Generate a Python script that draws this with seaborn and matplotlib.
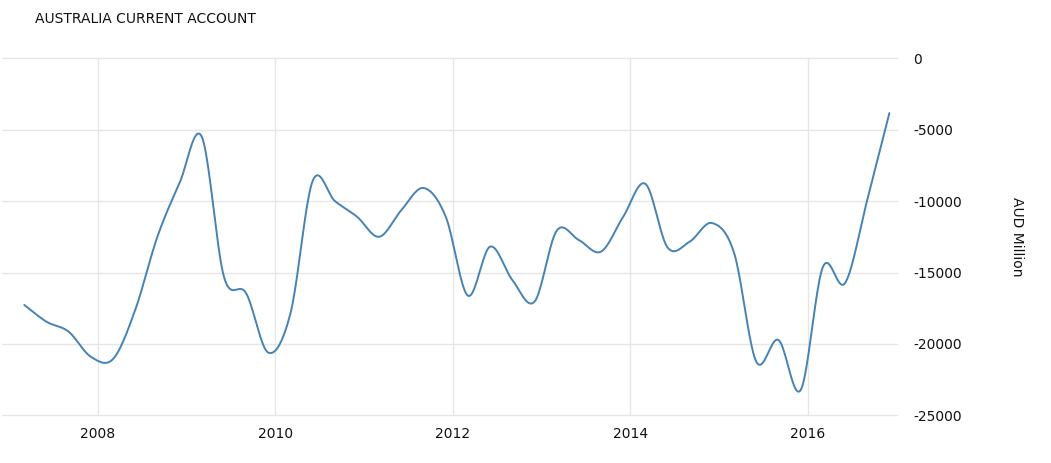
import numpy as np
import pandas as pd
import matplotlib
matplotlib.use("Agg")
import matplotlib.pyplot as plt
import seaborn as sns

# quarterly current account balance, AUD million (2007 Q1 .. 2016 Q4)
start_year = 2007.17
values = [-17270, -18440, -19140, -20890, -21050, -17620, -12500, -8740,
          -5500, -15290, -16450, -20600, -17850, -8600, -10000, -11100,
          -12500, -10630, -9090, -11100, -16620, -13190, -15520, -17040,
          -12080, -12730, -13540, -11100, -8800, -13250, -12840, -11540,
          -13640, -21240, -19720, -23220, -14620, -15740, -9930, -3850]
years = [start_year + 0.25 * i for i in range(len(values))]
year_ticks = [2008, 2010, 2012, 2014, 2016]
value_ticks = [0, -5000, -10000, -15000, -20000, -25000]


def smooth(x, y, n=20):
    # catmull-rom style spline so the line looks like the original
    x = np.asarray(x, float)
    y = np.asarray(y, float)
    m = np.gradient(y, x)
    xs, ys = [], []
    for i in range(len(x) - 1):
        h = x[i + 1] - x[i]
        t = np.linspace(0, 1, n, endpoint=False)
        h00 = 2 * t**3 - 3 * t**2 + 1
        h10 = t**3 - 2 * t**2 + t
        h01 = -2 * t**3 + 3 * t**2
        h11 = t**3 - t**2
        xs.append(x[i] + t * h)
        ys.append(h00 * y[i] + h10 * h * m[i] + h01 * y[i + 1] + h11 * h * m[i + 1])
    xs.append([x[-1]])
    ys.append([y[-1]])
    return np.concatenate(xs), np.concatenate(ys)


sx, sy = smooth(years, values)
df = pd.DataFrame({"year": sx, "value": sy})

sns.set_style("white")
plt.rcParams['font.family'] = ['DejaVu Sans']

fig = plt.figure(figsize=(10.51, 4.63), dpi=100)
ax = fig.add_axes([0.002, 0.1026, 0.851, 0.7721])
sns.lineplot(data=df, x="year", y="value", ax=ax, color="#4682b4", linewidth=1.4, sort=False)

ax.set_xlim(2006.92, 2017.0)
ax.set_ylim(-25000, 0)
ax.set_xticks(year_ticks)
ax.set_xticklabels([str(y) for y in year_ticks])
ax.set_yticks(value_ticks)
ax.set_yticklabels([str(v) for v in value_ticks])
ax.yaxis.tick_right()
ax.yaxis.set_label_position("right")
ax.grid(True, color="#e6e6e6", linewidth=1)
for gl in ax.get_ygridlines() + ax.get_xgridlines():
    gl.set_clip_on(False)
for s in ax.spines.values():
    s.set_visible(False)
ax.tick_params(axis="both", length=0, labelsize=10, colors="#111111")
ax.tick_params(axis="y", pad=12)
ax.tick_params(axis="x", pad=8)
ax.set_xlabel("")
ax.set_ylabel("AUD Million", rotation=270, fontsize=10, labelpad=45, color="#111111")

fig.text(0.033, 0.96, "AUSTRALIA CURRENT ACCOUNT", fontsize=10, color="#111111", va="center")

fig.savefig("out.png", dpi=100, facecolor="white")
